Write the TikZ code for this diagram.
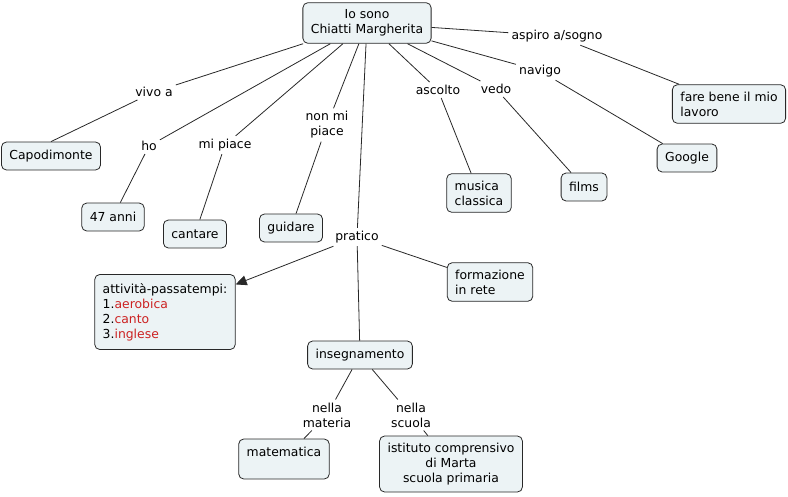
\documentclass[tikz,border=0pt]{standalone}
\usepackage{color}
\usepackage{fontspec}
\setmainfont{DejaVu Sans}
\usepackage{tikz}
\usetikzlibrary{arrows,arrows.meta,positioning}

\definecolor{conceptfill}{RGB}{236,243,245}
\definecolor{conceptline}{RGB}{40,40,40}
\definecolor{listred}{RGB}{204,34,34}

\begin{document}
\begin{tikzpicture}[x=1pt,y=-1pt]
  \tikzstyle{every node} = [font=\fontsize{12.4}{15}\selectfont]
  \tikzstyle{concept} = [rectangle,rounded corners=5pt,draw=conceptline,fill=conceptfill,line width=0.8pt,inner xsep=8pt,inner ysep=7pt,minimum height=28pt,align=center]
  \tikzstyle{link} = [inner sep=3pt,align=center]
  \tikzstyle{conn} = [draw=conceptline,line width=0.8pt]

  \useasboundingbox (0,0) rectangle (788,496);

  % concepts
  \node[concept] (root) at (367,23) {Io sono\\Chiatti Margherita};
  \node[concept] (capo) at (51,156) {Capodimonte};
  \node[concept] (anni) at (113,217) {47 anni};
  \node[concept] (cantare) at (195,234) {cantare};
  \node[concept] (guidare) at (291,228) {guidare};
  \node[concept,align=left] (musica) at (479,193) {musica\\classica};
  \node[concept] (films) at (584,187) {films};
  \node[concept] (google) at (687,158) {Google};
  \node[concept,align=left] (lavoro) at (729,104) {fare bene il mio\\lavoro};
  \node[concept,align=left] (rete) at (490,282) {formazione\\in rete};
  \node[concept,align=left,minimum height=75pt] (hobby) at (165,312) {attività-passatempi:\\1.\textcolor{listred}{aerobica}\\2.\textcolor{listred}{canto}\\3.\textcolor{listred}{inglese}};
  \node[concept] (insegn) at (360,355) {insegnamento};
  \node[concept,minimum height=40pt] (matem) at (284,459) {matematica\\~};
  \node[concept] (istituto) at (451,464) {istituto comprensivo\\di Marta\\scuola primaria};

  % linking phrases
  \node[link] (vivoa) at (154,92) {vivo a};
  \node[link] (ho) at (149,146) {ho};
  \node[link] (mipiace) at (225,145) {mi piace};
  \node[link] (nonmipiace) at (327,125) {non mi\\piace};
  \node[link] (pratico) at (357,237) {pratico};
  \node[link] (ascolto) at (438,90) {ascolto};
  \node[link] (vedo) at (496,89) {vedo};
  \node[link] (navigo) at (540,71) {navigo};
  \node[link] (aspiro) at (557,36) {aspiro a/sogno};
  \node[link] (nellamateria) at (327,415) {nella\\materia};
  \node[link] (nellascuola) at (411,415) {nella\\scuola};

  % connectors
  \draw[conn] (root) -- (vivoa);
  \draw[conn] (vivoa) -- (capo.north);
  \draw[conn] (root) -- (ho);
  \draw[conn] (ho) -- (anni);
  \draw[conn] (root) -- (mipiace);
  \draw[conn] (mipiace) -- (cantare);
  \draw[conn] (root) -- (nonmipiace);
  \draw[conn] (nonmipiace) -- (guidare);
  \draw[conn] (root) -- (pratico);
  \draw[conn,-{Triangle[length=11pt,width=10pt]}] (pratico) -- (hobby);
  \draw[conn] (pratico) -- (rete);
  \draw[conn] (pratico) -- (insegn);
  \draw[conn] (insegn) -- (nellamateria);
  \draw[conn] (nellamateria) -- (matem);
  \draw[conn] (insegn) -- (nellascuola);
  \draw[conn] (nellascuola) -- (istituto);
  \draw[conn] (root) -- (ascolto);
  \draw[conn] (ascolto) -- (musica);
  \draw[conn] (root) -- (vedo);
  \draw[conn] (vedo) -- (films);
  \draw[conn] (root) -- (navigo);
  \draw[conn] (navigo) -- (google);
  \draw[conn] (root) -- (aspiro);
  \draw[conn] (aspiro) -- (lavoro);

\end{tikzpicture}
\end{document}
